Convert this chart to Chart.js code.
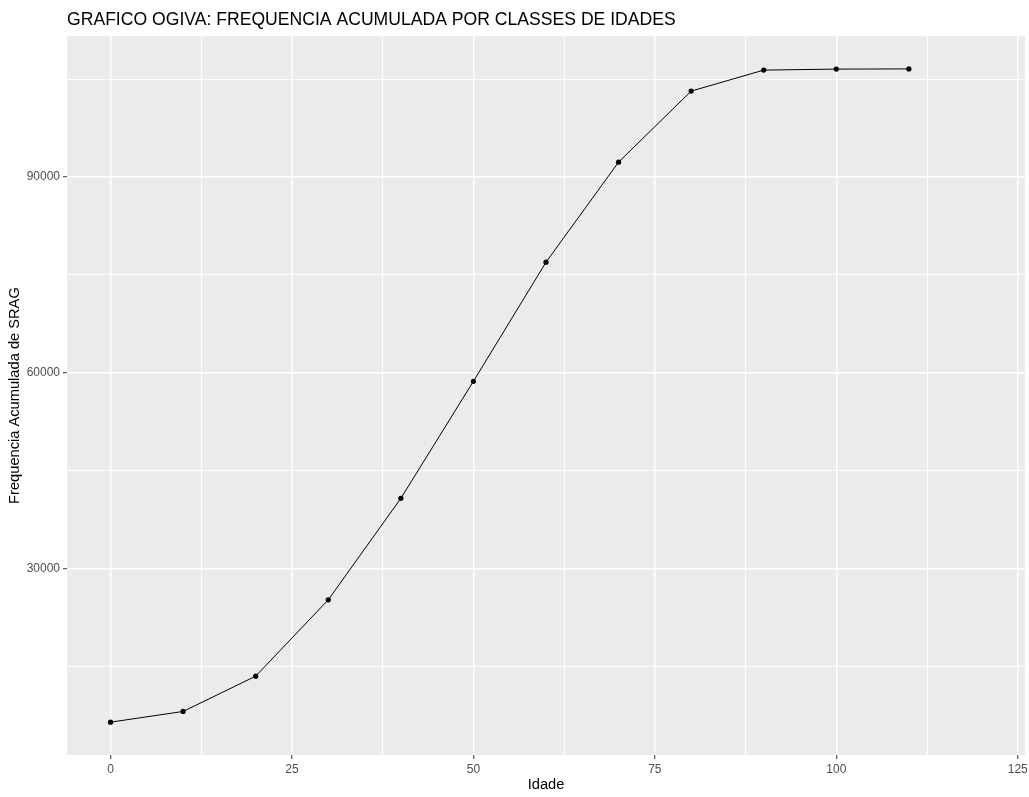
<!DOCTYPE html>
<html>
<head>
<meta charset="utf-8">
<script src="https://cdn.jsdelivr.net/npm/chart.js@4/dist/chart.umd.min.js"></script>
<style>
  html, body { margin: 0; padding: 0; background: #ffffff; overflow: hidden; }
  #c { display: block; }
</style>
</head>
<body>
<canvas id="c" width="1029" height="797"></canvas>
<script>
// ---- data ----
const titleText = "GRAFICO OGIVA: FREQUENCIA ACUMULADA POR CLASSES DE IDADES";
const xAxisTitle = "Idade";
const yAxisTitle = "Frequencia Acumulada de SRAG";
const ages = [0, 10, 20, 30, 40, 50, 60, 70, 80, 90, 100, 110];
const cumulative = [6415, 8057, 13473, 25182, 40742, 58695, 76956, 92301, 103196, 106418, 106572, 106600];
const xMajorTicks = [0, 25, 50, 75, 100, 125];
const xMinorTicks = [12.5, 37.5, 62.5, 87.5, 112.5];
const yMajorTicks = [30000, 60000, 90000];
const yMinorTicks = [15000, 45000, 75000, 105000];

const points = ages.map((a, i) => ({ x: a, y: cumulative[i] }));

const panelBg = {
  id: 'panelBg',
  beforeDraw(chart) {
    const { ctx, chartArea: a } = chart;
    ctx.save();
    ctx.fillStyle = '#EBEBEB';
    ctx.fillRect(a.left, a.top, a.right - a.left, a.bottom - a.top);
    ctx.restore();
  }
};

function buildTicks(major, minor) {
  return function (scale) {
    scale.ticks = [...major, ...minor].sort((a, b) => a - b).map(v => ({ value: v }));
  };
}
function isMajor(list, v) { return list.includes(v); }

const tickFont = { family: "'Liberation Sans', Arial, sans-serif", size: 12 };
const titleFont = { family: "'Liberation Sans', Arial, sans-serif", size: 14.67 };

new Chart(document.getElementById('c'), {
  type: 'line',
  data: {
    datasets: [{
      data: points,
      borderColor: '#000000',
      backgroundColor: '#000000',
      borderWidth: 1,
      pointRadius: 2.6,
      pointHoverRadius: 2.6,
      pointBorderWidth: 0,
      tension: 0,
      fill: false
    }]
  },
  plugins: [panelBg],
  options: {
    responsive: false,
    animation: false,
    devicePixelRatio: 1,
    layout: { padding: { left: 0, right: 4, top: 0, bottom: 0 } },
    plugins: {
      legend: { display: false },
      tooltip: { enabled: false },
      title: {
        display: true,
        text: titleText,
        align: 'start',
        fullSize: false,
        color: '#000000',
        font: { family: "'Liberation Sans', Arial, sans-serif", size: 17.6, weight: 'normal' },
        padding: { top: 10, bottom: 5 }
      }
    },
    scales: {
      x: {
        type: 'linear',
        min: -6,
        max: 126,
        afterBuildTicks: buildTicks(xMajorTicks, xMinorTicks),
        afterFit(scale) {
          scale.height = 42;
          scale.paddingLeft = 0;
          scale.paddingRight = 0;
        },
        border: { display: false },
        grid: {
          drawOnChartArea: true,
          color: '#FFFFFF',
          lineWidth: ctx => isMajor(xMajorTicks, ctx.tick.value) ? 1.5 : 0.9,
          tickColor: ctx => isMajor(xMajorTicks, ctx.tick.value) ? '#333333' : 'rgba(0,0,0,0)',
          tickLength: 4,
          tickWidth: 1
        },
        ticks: {
          autoSkip: false,
          maxRotation: 0,
          padding: 3,
          color: '#4D4D4D',
          font: tickFont,
          callback: v => isMajor(xMajorTicks, v) ? String(v) : ''
        },
        title: {
          display: true,
          text: xAxisTitle,
          color: '#000000',
          font: titleFont,
          padding: { top: 0, bottom: 3 }
        }
      },
      y: {
        type: 'linear',
        min: 1380,
        max: 111630,
        afterBuildTicks: buildTicks(yMajorTicks, yMinorTicks),
        afterFit(scale) {
          scale.width = 67;
          scale.paddingTop = 0;
          scale.paddingBottom = 0;
        },
        border: { display: false },
        grid: {
          color: '#FFFFFF',
          lineWidth: ctx => isMajor(yMajorTicks, ctx.tick.value) ? 1.5 : 0.9,
          tickColor: ctx => isMajor(yMajorTicks, ctx.tick.value) ? '#333333' : 'rgba(0,0,0,0)',
          tickLength: 4,
          tickWidth: 1
        },
        ticks: {
          autoSkip: false,
          padding: 3,
          color: '#4D4D4D',
          font: tickFont,
          callback: v => isMajor(yMajorTicks, v) ? String(v) : ''
        },
        title: {
          display: true,
          text: yAxisTitle,
          color: '#000000',
          font: titleFont,
          padding: { top: 6, bottom: 0 }
        }
      }
    }
  }
});
</script>
</body>
</html>
